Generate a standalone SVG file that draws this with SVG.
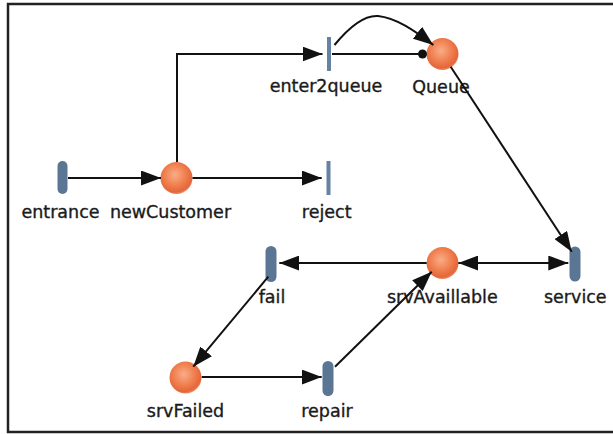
<svg xmlns="http://www.w3.org/2000/svg" width="613" height="434" viewBox="0 0 613 434">
<style>
  .lbl { font-family: "DejaVu Sans", Verdana, sans-serif; font-size: 17.5px; fill: #1a1a1a; stroke: #1a1a1a; stroke-width: 0.35; text-anchor: middle; }
  .bar { fill: #5b7694; }
  .tbar { fill: #6582a2; }
  .place { fill: url(#ball); }
  .arc { fill: none; stroke: #111; stroke-width: 2; }
  .arr { marker-end: url(#ah); }
</style>
<defs>
  <radialGradient id="ball" cx="0.45" cy="0.4" r="0.6">
    <stop offset="0" stop-color="#f9ad88"/>
    <stop offset="0.55" stop-color="#f0804f"/>
    <stop offset="0.9" stop-color="#e4663b"/>
    <stop offset="1" stop-color="#ee8a62"/>
  </radialGradient>
  <marker id="ah" markerUnits="userSpaceOnUse" markerWidth="21" markerHeight="15" refX="20" refY="7.5" orient="auto-start-reverse" viewBox="0 0 21 15">
    <path d="M0,0 L20,7.5 L0,15 z" fill="#111"/>
  </marker>
</defs>
<rect x="8" y="4" width="640" height="428" fill="#fff" stroke="#222" stroke-width="2.5"/>

<g id="entrance">
  <rect class="bar" x="57.5" y="161" width="10" height="33" rx="5"/>
  <text class="lbl" x="60.5" y="218">entrance</text>
</g>
<g id="newCustomer">
  <circle class="place" cx="176.5" cy="178" r="16"/>
  <text class="lbl" x="170.5" y="218">newCustomer</text>
</g>
<g id="reject">
  <rect class="tbar" x="326.5" y="161" width="4" height="34"/>
  <text class="lbl" x="326.7" y="218">reject</text>
</g>
<g id="enter2queue">
  <rect class="tbar" x="327" y="37" width="4" height="34"/>
  <text class="lbl" x="326" y="92">enter2queue</text>
</g>
<g id="Queue">
  <circle class="place" cx="442.5" cy="54" r="16"/>
  <text class="lbl" x="441" y="93">Queue</text>
</g>
<g id="service">
  <rect class="bar" x="569.5" y="246.5" width="11" height="35" rx="5.5"/>
  <text class="lbl" x="575.3" y="303">service</text>
</g>
<g id="srvAvaillable">
  <circle class="place" cx="442.5" cy="263" r="16"/>
  <text class="lbl" x="442.3" y="303">srvAvaillable</text>
</g>
<g id="fail">
  <rect class="bar" x="265.5" y="246" width="11" height="36" rx="5.5"/>
  <text class="lbl" x="272" y="303">fail</text>
</g>
<g id="srvFailed">
  <circle class="place" cx="185.5" cy="377.5" r="16"/>
  <text class="lbl" x="185.5" y="417">srvFailed</text>
</g>
<g id="repair">
  <rect class="bar" x="322.5" y="361" width="11" height="35" rx="5.5"/>
  <text class="lbl" x="327" y="417">repair</text>
</g>

<g id="connectors">
  <path class="arc arr" d="M68,178 H161"/>
  <path class="arc arr" d="M177,162 V54 H322.5"/>
  <path class="arc arr" d="M192.5,178 H321.7"/>
  <path class="arc arr" d="M334.5,45 C350,26 364,15 378,16 C396,18 414,30 433.3,45"/>
  <path class="arc" d="M332,54 H422.5"/>
  <circle cx="422.5" cy="54" r="4.5" fill="#111"/>
  <path class="arc arr" d="M450.7,66.7 L571.7,251.7"/>
  <path class="arc arr" d="M458.3,263 H568.3" marker-start="url(#ah)"/>
  <path class="arc arr" d="M426.7,263 H279.3"/>
  <path class="arc arr" d="M268.3,276.7 L193.3,366.7"/>
  <path class="arc arr" d="M201.7,377 H321.7"/>
  <path class="arc arr" d="M335,366.7 L431.7,271.7"/>
</g>
</svg>
